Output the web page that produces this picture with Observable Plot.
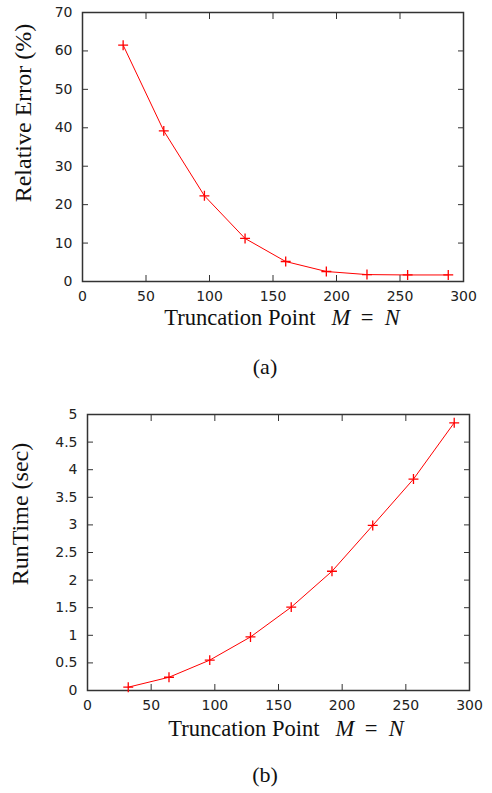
<!DOCTYPE html>
<html>
<head>
<meta charset="utf-8">
<script src="https://cdn.jsdelivr.net/npm/d3@7"></script>
<script src="https://cdn.jsdelivr.net/npm/@observablehq/plot@0.6"></script>
<style>
  html, body { margin: 0; padding: 0; background: #fff; }
  #root { position: relative; width: 492px; height: 793px; overflow: hidden; }
  #root > div { position: absolute; left: 0; }
  svg text.lbl { font-family: "Liberation Serif", "Times New Roman", serif; fill: #111; white-space: pre; }
</style>
</head>
<body>
<div id="root"><div id="a" style="top:0"></div><div id="b" style="top:400px"></div></div>
<script>
// Data
const truncationPoints = [32, 64, 96, 128, 160, 192, 224, 256, 288];
const relativeError = [61.5, 39.2, 22.3, 11.2, 5.2, 2.6, 1.8, 1.7, 1.7];
const runTime = [0.06, 0.24, 0.55, 0.97, 1.51, 2.16, 2.99, 3.83, 4.85];
const xTicks = [0, 50, 100, 150, 200, 250, 300];
const errorTicks = [0, 10, 20, 30, 40, 50, 60, 70];
const runTimeTicks = [0, 0.5, 1, 1.5, 2, 2.5, 3, 3.5, 4, 4.5, 5];
const xLabelParts = [["Truncation Point", false, 0], ["M", true, 17], ["=", false, 11], ["N", true, 12]];
const errorLabel = "Relative Error (%)";
const runTimeLabel = "RunTime (sec)";
const captions = ["(a)", "(b)"];

function chart({values, yTicks, yDomain, height, marginTop, marginBottom, marginLeft, marginRight}) {
  const data = truncationPoints.map((x, i) => ({x, y: values[i]}));
  const blank = () => "";
  const fmt = d => String(d);
  return Plot.plot({
    width: 492, height, marginTop, marginBottom, marginLeft, marginRight,
    style: {fontFamily: '"DejaVu Sans", Arial, sans-serif', fontSize: "14px", color: "#222", background: "white"},
    x: {domain: [0, 300]},
    y: {domain: yDomain},
    marks: [
      Plot.axisX(xTicks, {anchor: "bottom", tickSize: 0, tickPadding: 10, tickFormat: fmt, label: null}),
      Plot.axisX(xTicks, {anchor: "bottom", tickSize: -6, tickFormat: blank, label: null, stroke: "#333"}),
      Plot.axisX(xTicks, {anchor: "top", tickSize: -6, tickFormat: blank, label: null, stroke: "#333"}),
      Plot.axisY(yTicks, {anchor: "left", tickSize: 0, tickPadding: 10, tickFormat: fmt, label: null}),
      Plot.axisY(yTicks, {anchor: "left", tickSize: -6, tickFormat: blank, label: null, stroke: "#333"}),
      Plot.axisY(yTicks, {anchor: "right", tickSize: -6, tickFormat: blank, label: null, stroke: "#333"}),
      Plot.frame({stroke: "#333", strokeWidth: 1.5}),
      Plot.line(data, {x: "x", y: "y", stroke: "red", strokeWidth: 1}),
      Plot.dot(data, {x: "x", y: "y", symbol: "plus", stroke: "red", r: 3.3, strokeWidth: 1.3})
    ]
  });
}

function addText(svg, {x, y, size, rotate = 0, sx = 1, parts}) {
  const t = d3.select(svg).append("text")
    .attr("class", "lbl")
    .attr("text-anchor", "middle")
    .attr("font-size", size)
    .attr("transform", `translate(${x},${y}) rotate(${rotate}) scale(${sx},1)`);
  parts.forEach(([s, it, dx]) => t.append("tspan")
    .attr("font-style", it ? "italic" : "normal")
    .attr("dx", dx || 0)
    .text(s));
}

const A = chart({values: relativeError, yTicks: errorTicks, yDomain: [0, 70], height: 400,
  marginTop: 12, marginBottom: 119, marginLeft: 82, marginRight: 29});
addText(A, {x: 282, y: 325, size: 24, sx: 0.94, parts: xLabelParts});
addText(A, {x: 31, y: 113, size: 24, rotate: -90, parts: [[errorLabel, false]]});
addText(A, {x: 265, y: 374, size: 22, parts: [[captions[0], false]]});
document.getElementById("a").appendChild(A);

const B = chart({values: runTime, yTicks: runTimeTicks, yDomain: [0, 5], height: 393,
  marginTop: 14, marginBottom: 103, marginLeft: 87, marginRight: 23});
addText(B, {x: 286, y: 336, size: 24, sx: 0.94, parts: xLabelParts});
addText(B, {x: 28, y: 114, size: 24, rotate: -90, parts: [[runTimeLabel, false]]});
addText(B, {x: 265, y: 382, size: 22, parts: [[captions[1], false]]});
document.getElementById("b").appendChild(B);
</script>
</body>
</html>
